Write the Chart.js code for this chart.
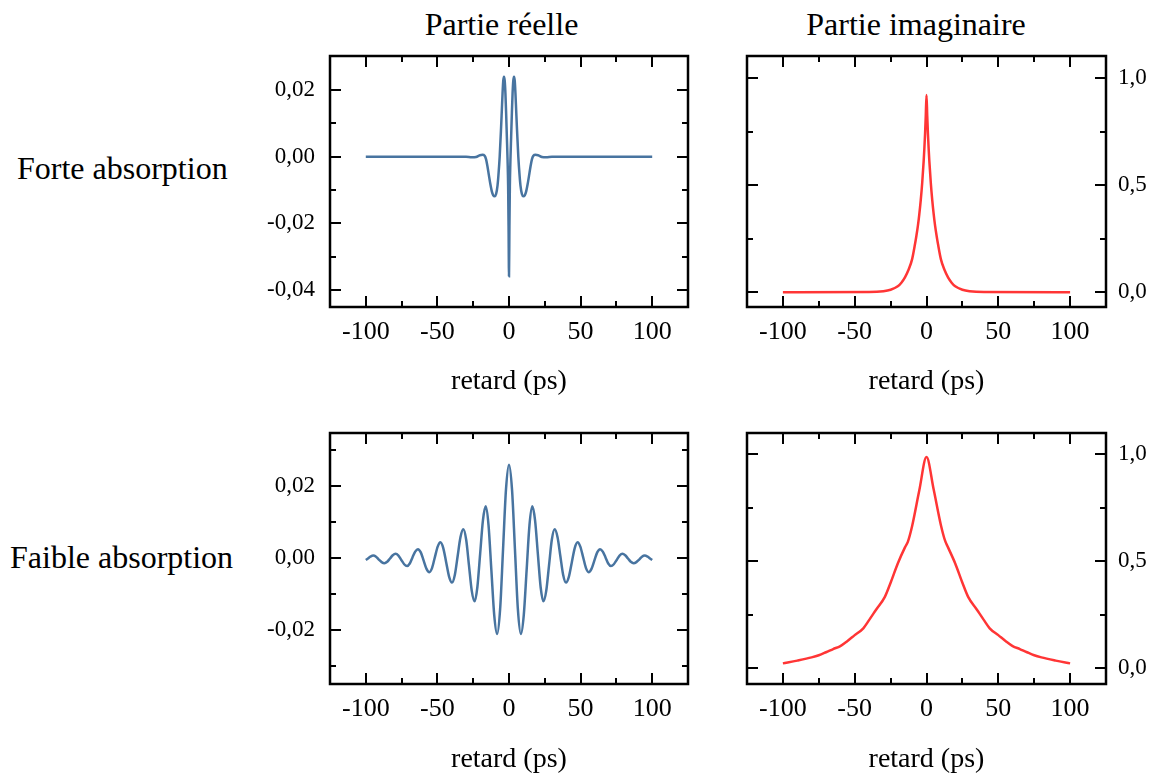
<!DOCTYPE html>
<html><head><meta charset="utf-8">
<script src="https://cdn.jsdelivr.net/npm/chart.js@4.4.0/dist/chart.umd.min.js"></script>
<style>
html,body{margin:0;padding:0;background:#fff;}
body{width:1159px;height:778px;position:relative;overflow:hidden;font-family:"Liberation Serif","Times New Roman",serif;color:#000;}
.lbl{position:absolute;font-size:32px;line-height:32px;white-space:nowrap;}
.ctr{transform:translateX(-50%);}
canvas{position:absolute;}
</style></head><body>
<div class="lbl ctr" style="left:501.5px;top:8px;">Partie réelle</div>
<div class="lbl ctr" style="left:916px;top:8px;">Partie imaginaire</div>
<div class="lbl" style="left:17px;top:152px;">Forte absorption</div>
<div class="lbl" style="left:10px;top:541px;">Faible absorption</div>
<canvas id="c1" width="440" height="370" style="left:260px;top:40px;"></canvas>
<canvas id="c2" width="459" height="370" style="left:700px;top:40px;"></canvas>
<canvas id="c3" width="440" height="363" style="left:260px;top:415px;"></canvas>
<canvas id="c4" width="459" height="363" style="left:700px;top:415px;"></canvas>
<script>
// ---------- data ----------
const xTicksMajor = [-100, -50, 0, 50, 100];
const xTicksMinor = [-75, -25, 25, 75];
const xAxisTitle = 'retard (ps)';

// Forte absorption, partie réelle
const strongReX = [-100, -30, -26, -23, -20.5, -18.6, -17, -16, -15, -14, -13, -12, -11, -10, -9, -8, -7.4, -6.5, -5.5, -5, -4.5, -4, -3.5, -3, -2.5, -2, -1.5, -1, -0.6, -0.3, 0,
  0.3, 0.6, 1, 1.5, 2, 2.5, 3, 3.5, 4, 4.5, 5, 5.5, 6.5, 7.4, 8, 9, 10, 11, 12, 13, 14, 15, 16, 17, 18.6, 20.5, 23, 26, 30, 100];
const strongReY = [0, 0, -0.0002, -0.0001, 0.0004, 0.0006, 0.0003, -0.0008, -0.0030, -0.0057, -0.0083, -0.0104, -0.0116, -0.0119, -0.0112, -0.0086, -0.0057, 0.0000, 0.0090, 0.0140, 0.0190, 0.0228, 0.0240, 0.0228, 0.0190, 0.0130, 0.0060, -0.0010, -0.0090, -0.0210, -0.0359,
  -0.0210, -0.0090, -0.0010, 0.0060, 0.0130, 0.0190, 0.0228, 0.0240, 0.0228, 0.0190, 0.0140, 0.0090, 0.0000, -0.0057, -0.0086, -0.0112, -0.0119, -0.0116, -0.0104, -0.0083, -0.0057, -0.0030, -0.0008, 0.0003, 0.0006, 0.0004, -0.0001, -0.0002, 0, 0];
const strongReYMajor = [-0.04, -0.02, 0, 0.02];
const strongReYMinor = [-0.03, -0.01, 0.01];

// Forte absorption, partie imaginaire
const strongImX = [-100, -40, -30, -25, -20, -17.5, -15, -12.5, -10, -8, -7, -6, -5, -4, -3, -2, -1.5, -1, -0.5, 0,
  0.5, 1, 1.5, 2, 3, 4, 5, 6, 7, 8, 10, 12.5, 15, 17.5, 20, 25, 30, 40, 100];
const strongImY = [0, 0.001, 0.005, 0.012, 0.028, 0.045, 0.070, 0.105, 0.155, 0.225, 0.265, 0.310, 0.365, 0.430, 0.510, 0.610, 0.670, 0.740, 0.825, 0.920,
  0.825, 0.740, 0.670, 0.610, 0.510, 0.430, 0.365, 0.310, 0.265, 0.225, 0.155, 0.105, 0.070, 0.045, 0.028, 0.012, 0.005, 0.001, 0];
const imYMajor = [0, 0.5, 1.0];
const imYMinor = [0.25, 0.75];

// Faible absorption, partie réelle
const weakReX = [-100, -98.5, -96.8, -94.8, -92.85, -90.9, -88.95, -87, -85.05, -83.1, -81.15, -79.2, -77.2, -75.2, -73.2, -71.2, -69.3, -67.4, -65.5, -63.6, -61.6, -59.6, -57.6, -55.6, -53.7, -51.75, -49.8, -47.9, -45.9, -43.85, -41.8, -39.8, -37.8, -35.85, -33.9, -31.9, -29.9, -27.95, -26, -24, -22.1, -20.15, -18.2, -16.3, -14.3, -12.3, -10.3, -8.3, -6.2, -4.15, -2.1, 0,
  2.1, 4.15, 6.2, 8.3, 10.3, 12.3, 14.3, 16.3, 18.2, 20.15, 22.1, 24, 26, 27.95, 29.9, 31.9, 33.9, 35.85, 37.8, 39.8, 41.8, 43.85, 45.9, 47.9, 49.8, 51.75, 53.7, 55.6, 57.6, 59.6, 61.6, 63.6, 65.5, 67.4, 69.3, 71.2, 73.2, 75.2, 77.2, 79.2, 81.15, 83.1, 85.05, 87, 88.95, 90.9, 92.85, 94.8, 96.8, 98.5, 100];
const weakReY = [-0.0005, -0.0001, 0.0004, 0.0007, 0.0004, -0.0004, -0.0011, -0.0014, -0.0010, -0.0001, 0.0008, 0.0012, 0.0007, -0.0005, -0.0017, -0.0022, -0.0015, 0.0002, 0.0018, 0.0025, 0.0016, -0.0007, -0.0030, -0.0039, -0.0027, 0.0003, 0.0032, 0.0044, 0.0028, -0.0012, -0.0052, -0.0068, -0.0046, 0.0006, 0.0058, 0.0080, 0.0051, -0.0020, -0.0091, -0.0120, -0.0081, 0.0012, 0.0105, 0.0144, 0.0092, -0.0034, -0.0159, -0.0211, -0.0142, 0.0025, 0.0191, 0.0260,
  0.0191, 0.0025, -0.0142, -0.0211, -0.0159, -0.0034, 0.0092, 0.0144, 0.0105, 0.0012, -0.0081, -0.0120, -0.0091, -0.0020, 0.0051, 0.0080, 0.0058, 0.0006, -0.0046, -0.0068, -0.0052, -0.0012, 0.0028, 0.0044, 0.0032, 0.0003, -0.0027, -0.0039, -0.0030, -0.0007, 0.0016, 0.0025, 0.0018, 0.0002, -0.0015, -0.0022, -0.0017, -0.0005, 0.0007, 0.0012, 0.0008, -0.0001, -0.0010, -0.0014, -0.0011, -0.0004, 0.0004, 0.0007, 0.0004, -0.0001, -0.0005];
const weakReYMajor = [-0.02, 0, 0.02];
const weakReYMinor = [-0.03, -0.01, 0.01, 0.03];

// Faible absorption, partie imaginaire
const weakImX = [-100, -90, -80, -75, -70, -65, -60, -55, -50, -44, -40, -35, -29, -25, -20, -15, -13, -10, -5, 0,
  5, 10, 13, 15, 20, 25, 29, 35, 40, 44, 50, 55, 60, 65, 70, 75, 80, 90, 100];
const weakImY = [0.023, 0.036, 0.051, 0.061, 0.075, 0.090, 0.104, 0.128, 0.155, 0.187, 0.225, 0.275, 0.334, 0.400, 0.490, 0.565, 0.591, 0.665, 0.832, 0.987,
  0.835, 0.670, 0.595, 0.565, 0.490, 0.400, 0.334, 0.275, 0.225, 0.187, 0.155, 0.128, 0.104, 0.090, 0.075, 0.061, 0.051, 0.036, 0.023];

// ---------- rendering ----------
const FONT = 'Liberation Serif';
const BLUE = '#4874a0';
const RED = '#ff3535';

const framePlugin = {
  id: 'frame',
  afterDatasetsDraw(chart) {
    const o = chart.options.plugins.frame;
    const {ctx, chartArea: a} = chart;
    const xs = chart.scales.x, ys = chart.scales.y;
    ctx.save();
    ctx.strokeStyle = '#000';
    ctx.lineCap = 'butt';
    ctx.lineWidth = 2;
    const xt = (vals, len) => vals.forEach(v => {
      const p = Math.round(xs.getPixelForValue(v));
      ctx.beginPath();
      ctx.moveTo(p, a.bottom); ctx.lineTo(p, a.bottom - len);
      ctx.moveTo(p, a.top); ctx.lineTo(p, a.top + len);
      ctx.stroke();
    });
    const yt = (vals, len) => vals.forEach(v => {
      const p = Math.round(ys.getPixelForValue(v));
      ctx.beginPath();
      ctx.moveTo(a.left, p); ctx.lineTo(a.left + len, p);
      ctx.moveTo(a.right, p); ctx.lineTo(a.right - len, p);
      ctx.stroke();
    });
    xt(o.xMajor, 11); xt(o.xMinor, 6);
    yt(o.yMajor, 11); yt(o.yMinor, 6);
    ctx.lineWidth = 2.5;
    ctx.strokeRect(a.left, a.top, a.right - a.left, a.bottom - a.top);
    ctx.restore();
  }
};

function makeChart(id, cfg) {
  const pts = cfg.xs.map((x, i) => ({x: x, y: cfg.ys[i]}));
  return new Chart(document.getElementById(id), {
    type: 'line',
    data: {datasets: [{data: pts, borderColor: cfg.color, borderWidth: 2.5, pointRadius: 0, fill: false, cubicInterpolationMode: 'monotone'}]},
    plugins: [framePlugin],
    options: {
      responsive: false, animation: false, events: [],
      layout: {padding: cfg.pad},
      plugins: {
        legend: {display: false}, tooltip: {enabled: false},
        frame: {xMajor: xTicksMajor, xMinor: xTicksMinor, yMajor: cfg.yMajor, yMinor: cfg.yMinor}
      },
      scales: {
        x: {
          type: 'linear', position: 'bottom', min: -125, max: 125,
          afterBuildTicks: s => { s.ticks = xTicksMajor.map(v => ({value: v})); },
          afterFit: s => { s.height = cfg.xH; s.paddingLeft = 0; s.paddingRight = 0; },
          grid: {display: false, drawTicks: false}, border: {display: false},
          ticks: {color: '#000', font: {family: FONT, size: 26}, padding: 10, maxRotation: 0, autoSkip: false, callback: v => String(v)},
          title: {display: true, text: xAxisTitle, color: '#000', font: {family: FONT, size: 28}, padding: {top: 0, bottom: cfg.titlePad}}
        },
        y: {
          type: 'linear', position: cfg.yPos, min: cfg.yMin, max: cfg.yMax,
          afterBuildTicks: s => { s.ticks = cfg.yMajor.map(v => ({value: v})); },
          afterFit: s => { s.width = cfg.yW; s.paddingTop = 0; s.paddingBottom = 0; },
          grid: {display: false, drawTicks: false}, border: {display: false},
          ticks: {color: '#000', font: {family: FONT, size: 23}, padding: cfg.yPad, autoSkip: false, callback: v => v.toFixed(cfg.dec).replace('.', ',')}
        }
      }
    }
  });
}

makeChart('c1', {xs: strongReX, ys: strongReY, color: BLUE, yMajor: strongReYMajor, yMinor: strongReYMinor, yMin: -0.0451, yMax: 0.0302, dec: 2,
  yPos: 'left', yW: 70, yPad: 15, xH: 103, titlePad: 12, pad: {left: 0, top: 16, right: 12, bottom: 0}});
makeChart('c2', {xs: strongImX, ys: strongImY, color: RED, yMajor: imYMajor, yMinor: imYMinor, yMin: -0.0685, yMax: 1.1025, dec: 1,
  yPos: 'right', yW: 53, yPad: 12, xH: 103, titlePad: 12, pad: {left: 47, top: 16, right: 0, bottom: 0}});
makeChart('c3', {xs: weakReX, ys: weakReY, color: BLUE, yMajor: weakReYMajor, yMinor: weakReYMinor, yMin: -0.035, yMax: 0.0348, dec: 2,
  yPos: 'left', yW: 70, yPad: 15, xH: 94, titlePad: 2, pad: {left: 0, top: 18, right: 12, bottom: 0}});
makeChart('c4', {xs: weakImX, ys: weakImY, color: RED, yMajor: imYMajor, yMinor: imYMinor, yMin: -0.0733, yMax: 1.0994, dec: 1,
  yPos: 'right', yW: 53, yPad: 12, xH: 94, titlePad: 2, pad: {left: 47, top: 18, right: 0, bottom: 0}});
</script>
</body></html>
